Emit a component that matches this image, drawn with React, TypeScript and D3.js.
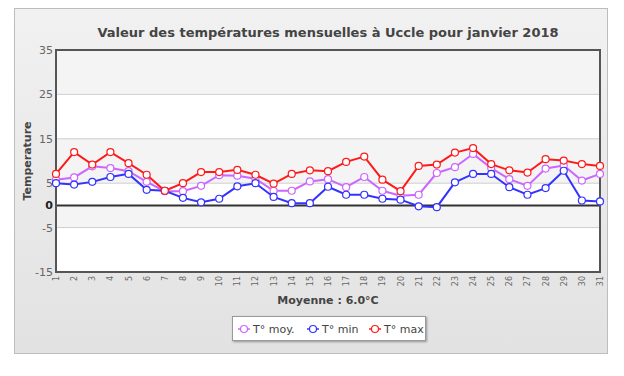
import React from "react";
import * as d3 from "d3";

const days = d3.range(1, 32);
const tMoy = [5.8, 6.3, 8.8, 8.4, 7.7, 5.3, 3.2, 3.2, 4.4, 6.8, 6.7, 6.0, 3.3, 3.3, 5.4, 5.9, 4.1, 6.4, 3.3, 2.2, 2.4, 7.3, 8.6, 11.6, 8.4, 5.9, 4.4, 8.3, 9.0, 5.6, 7.1];
const tMin = [5.0, 4.7, 5.3, 6.4, 7.1, 3.5, 3.3, 1.7, 0.7, 1.5, 4.3, 5.0, 1.9, 0.5, 0.5, 4.2, 2.4, 2.4, 1.5, 1.3, -0.2, -0.4, 5.2, 7.1, 7.1, 4.1, 2.4, 3.9, 7.8, 1.1, 0.9];
const tMax = [7.1, 12.0, 9.2, 12.0, 9.5, 6.9, 3.3, 5.0, 7.5, 7.5, 8.0, 6.9, 4.9, 7.1, 7.9, 7.7, 9.8, 11.0, 5.8, 3.2, 8.9, 9.2, 11.9, 12.9, 9.3, 7.9, 7.4, 10.4, 10.1, 9.3, 8.9];
const yTicks = [35, 25, 15, 5, 0, -5, -15];

const series = [
  { name: "T° moy.", values: tMoy, color: "#cc66ff" },
  { name: "T° min", values: tMin, color: "#3333ff" },
  { name: "T° max", values: tMax, color: "#ff1a1a" },
];

const W = 624, H = 376;
const L = 56, R = 600, T = 50, B = 272;
const FONT = "'DejaVu Sans', Verdana, sans-serif";

export default function App() {
  const x = d3.scaleLinear().domain([1, 31]).range([L, R]);
  const y = d3.scaleLinear().domain([-15, 35]).range([B, T]);
  const line = d3.line<number>().x((_, i) => x(days[i])).y((v) => y(v));
  const bands = yTicks.slice(0, -1).map((t, i) => [t, yTicks[i + 1]]);
  const legendItems = [
    { x: 244, s: series[0] },
    { x: 313, s: series[1] },
    { x: 375, s: series[2] },
  ];
  return (
    <svg width={W} height={H} style={{ position: "absolute", left: 0, top: 0 }} fontFamily={FONT}>
      <defs>
        <linearGradient id="bg" x1="0" y1="0" x2="0" y2="1">
          <stop offset="0" stopColor="#f1f1f1" />
          <stop offset="1" stopColor="#e2e2e2" />
        </linearGradient>
        <filter id="sh" x="-10%" y="-30%" width="130%" height="170%">
          <feDropShadow dx="1" dy="1" stdDeviation="1" floodColor="#000" floodOpacity="0.35" />
        </filter>
      </defs>
      <rect x={0} y={0} width={W} height={H} fill="#fff" />
      <rect x={14.5} y={8.5} width={593} height={345} fill="url(#bg)" stroke="#bdbdbd" strokeWidth={1} />
      <text x={328} y={37} textAnchor="middle" fontSize={13} fontWeight="bold" fill="#444">
        Valeur des températures mensuelles à Uccle pour janvier 2018
      </text>
      {bands.map(([a, b], i) => (
        <rect key={i} x={L} y={y(a)} width={R - L} height={y(b) - y(a)} fill={i % 2 === 0 ? "#f4f4f4" : "#ffffff"} />
      ))}
      {yTicks.map((t) => (
        <line key={t} x1={L} x2={R} y1={y(t)} y2={y(t)} stroke={t === 0 ? "#333" : "#cfcfcf"} strokeWidth={t === 0 ? 2 : 1} />
      ))}
      <rect x={L} y={T} width={R - L} height={B - T} fill="none" stroke="#555" strokeWidth={2} />
      {yTicks.map((t) => (
        <text key={t} x={L - 3} y={y(t) + 4} textAnchor="end" fontSize={11} fill={t === 0 ? "#222" : "#666"} fontWeight={t === 0 ? "bold" : "normal"}>
          {t}
        </text>
      ))}
      <text transform={`translate(31,${(T + B) / 2}) rotate(-90)`} textAnchor="middle" fontSize={11} fontWeight="bold" fill="#444">
        Temperature
      </text>
      {days.map((d) => (
        <text key={d} transform={`translate(${x(d) + 3},${B + 4}) rotate(-90)`} textAnchor="end" fontSize={8} fill="#666">
          {d}
        </text>
      ))}
      <text x={328} y={304} textAnchor="middle" fontSize={11} fontWeight="bold" fill="#444">
        Moyenne : 6.0°C
      </text>
      {series.map((s) => (
        <g key={s.name}>
          <path d={line(s.values) ?? ""} fill="none" stroke={s.color} strokeWidth={2} />
          {s.values.map((v, i) => (
            <circle key={i} cx={x(days[i])} cy={y(v)} r={3.5} fill="#fff" stroke={s.color} strokeWidth={1.2} />
          ))}
        </g>
      ))}
      <rect x={232.5} y={316.5} width={193} height={24} fill="#fff" stroke="#999" strokeWidth={1} filter="url(#sh)" />
      {legendItems.map(({ x: lx, s }) => (
        <g key={s.name}>
          <line x1={lx - 6} x2={lx + 6} y1={329} y2={329} stroke={s.color} strokeWidth={1.5} />
          <circle cx={lx} cy={329} r={3.5} fill="#fff" stroke={s.color} strokeWidth={1.2} />
          <text x={lx + 9} y={333} fontSize={11} fill="#444">{s.name}</text>
        </g>
      ))}
    </svg>
  );
}
